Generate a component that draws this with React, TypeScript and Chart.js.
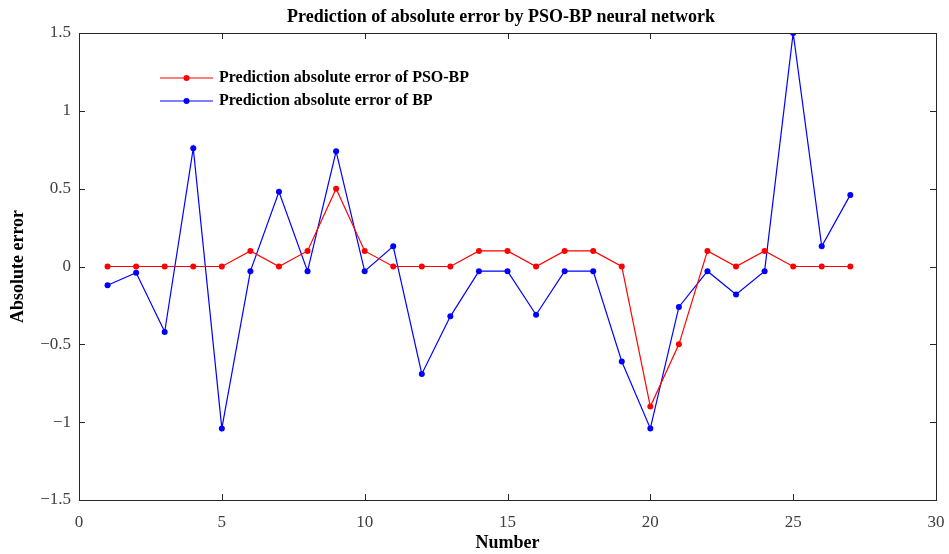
import React, { useEffect, useRef } from "react";
import { Chart, registerables } from "chart.js";

Chart.register(...registerables);

const sampleNumbers = [1, 2, 3, 4, 5, 6, 7, 8, 9, 10, 11, 12, 13, 14, 15, 16, 17, 18, 19, 20, 21, 22, 23, 24, 25, 26, 27];
const psoBpErrors = [0, 0, 0, 0, 0, 0.1, 0, 0.1, 0.5, 0.1, 0, 0, 0, 0.1, 0.1, 0, 0.1, 0.1, 0, -0.9, -0.5, 0.1, 0, 0.1, 0, 0, 0];
const bpErrors = [-0.12, -0.04, -0.42, 0.76, -1.04, -0.03, 0.48, -0.03, 0.74, -0.03, 0.13, -0.69, -0.32, -0.03, -0.03, -0.31, -0.03, -0.03, -0.61, -1.04, -0.26, -0.03, -0.18, -0.03, 1.5, 0.13, 0.46];
const xTicks = [0, 5, 10, 15, 20, 25, 30];
const yTicks = [-1.5, -1, -0.5, 0, 0.5, 1, 1.5];
const seriesLabels = ["Prediction absolute error of PSO-BP", "Prediction absolute error of BP"];
const chartTitle = "Prediction of absolute error by PSO-BP neural network";
const xTitle = "Number";
const yTitle = "Absolute error";

const SERIF = "'Liberation Serif', 'Times New Roman', serif";
const AXIS_COLOR = "#262626";

const boxPlugin = {
  id: "matlabBox",
  afterDraw(chart: any) {
    const { ctx, chartArea: a, scales } = chart;
    const xs = scales.x;
    const ys = scales.y;
    ctx.save();
    ctx.strokeStyle = AXIS_COLOR;
    ctx.lineWidth = 1;
    ctx.strokeRect(a.left + 0.5, a.top + 0.5, a.right - a.left, a.bottom - a.top);
    const tl = 6;
    ctx.beginPath();
    xTicks.forEach((v) => {
      const px = Math.round(xs.getPixelForValue(v)) + 0.5;
      ctx.moveTo(px, a.bottom);
      ctx.lineTo(px, a.bottom - tl);
      ctx.moveTo(px, a.top);
      ctx.lineTo(px, a.top + tl);
    });
    yTicks.forEach((v) => {
      const py = Math.round(ys.getPixelForValue(v)) + 0.5;
      ctx.moveTo(a.left, py);
      ctx.lineTo(a.left + tl, py);
      ctx.moveTo(a.right, py);
      ctx.lineTo(a.right - tl, py);
    });
    ctx.stroke();

    // title
    ctx.fillStyle = "#000";
    ctx.font = `bold 18px ${SERIF}`;
    ctx.textAlign = "center";
    ctx.textBaseline = "middle";
    ctx.fillText(chartTitle, 501, 17);

    // legend inside plot
    const lx = 160;
    const ly = [78, 101];
    chart.data.datasets.forEach((ds: any, i: number) => {
      const y = ly[i];
      ctx.strokeStyle = ds.borderColor;
      ctx.lineWidth = 1.2;
      ctx.beginPath();
      ctx.moveTo(lx, y);
      ctx.lineTo(lx + 53, y);
      ctx.stroke();
      ctx.fillStyle = ds.borderColor;
      ctx.beginPath();
      ctx.arc(lx + 26.5, y, 3, 0, Math.PI * 2);
      ctx.fill();
      ctx.fillStyle = "#000";
      ctx.font = `bold 16px ${SERIF}`;
      ctx.textAlign = "left";
      ctx.textBaseline = "middle";
      ctx.fillText(ds.label, lx + 59, y);
    });
    ctx.restore();
  },
};

export default function App() {
  const ref = useRef<HTMLCanvasElement | null>(null);
  useEffect(() => {
    if (!ref.current) return;
    const mk = (vals: number[]) => sampleNumbers.map((n, i) => ({ x: n, y: vals[i] }));
    const chart = new Chart(ref.current, {
      type: "line",
      data: {
        datasets: [
          {
            label: seriesLabels[0],
            data: mk(psoBpErrors),
            borderColor: "#ff0000",
            backgroundColor: "#ff0000",
            borderWidth: 1.2,
            pointRadius: 3,
            pointHoverRadius: 3,
            pointBorderWidth: 0,
            tension: 0,
          },
          {
            label: seriesLabels[1],
            data: mk(bpErrors),
            borderColor: "#0000ff",
            backgroundColor: "#0000ff",
            borderWidth: 1.2,
            pointRadius: 3,
            pointHoverRadius: 3,
            pointBorderWidth: 0,
            tension: 0,
          },
        ],
      },
      options: {
        animation: false,
        responsive: false,
        maintainAspectRatio: false,
        layout: { padding: { left: 0, top: 33, right: 13, bottom: 0 } },
        plugins: { legend: { display: false }, title: { display: false }, tooltip: { enabled: false } },
        scales: {
          x: {
            type: "linear",
            min: 0,
            max: 30,
            afterBuildTicks: (s: any) => {
              s.ticks = xTicks.map((v) => ({ value: v }));
            },
            afterFit: (s: any) => {
              s.height = 54;
              s.paddingLeft = 0;
              s.paddingRight = 0;
            },
            grid: { display: false, drawTicks: false },
            border: { display: false },
            ticks: {
              padding: 12,
              color: "#404040",
              font: { family: SERIF, size: 17 },
              maxRotation: 0,
              callback: (v: any) => String(v),
            },
            title: {
              display: true,
              text: xTitle,
              color: "#000",
              font: { family: SERIF, size: 18, weight: "bold" },
              padding: { top: 0, bottom: 0 },
            },
          },
          y: {
            type: "linear",
            min: -1.5,
            max: 1.5,
            afterBuildTicks: (s: any) => {
              s.ticks = yTicks.map((v) => ({ value: v }));
            },
            afterFit: (s: any) => {
              s.width = 79;
              s.paddingTop = 0;
              s.paddingBottom = 0;
            },
            grid: { display: false, drawTicks: false },
            border: { display: false },
            ticks: {
              padding: 8,
              color: "#404040",
              font: { family: SERIF, size: 17 },
              callback: (v: any) => String(v).replace("-", "\u2212"),
            },
            title: {
              display: true,
              text: yTitle,
              color: "#000",
              font: { family: SERIF, size: 18, weight: "bold" },
              padding: { top: 8, bottom: 4 },
            },
          },
        },
      },
      plugins: [boxPlugin],
    });
    return () => chart.destroy();
  }, []);
  return (
    <div style={{ position: "fixed", left: 0, top: 0, width: 949, height: 554, background: "#fff" }}>
      <canvas ref={ref} width={949} height={554} style={{ width: 949, height: 554, display: "block" }} />
    </div>
  );
}
